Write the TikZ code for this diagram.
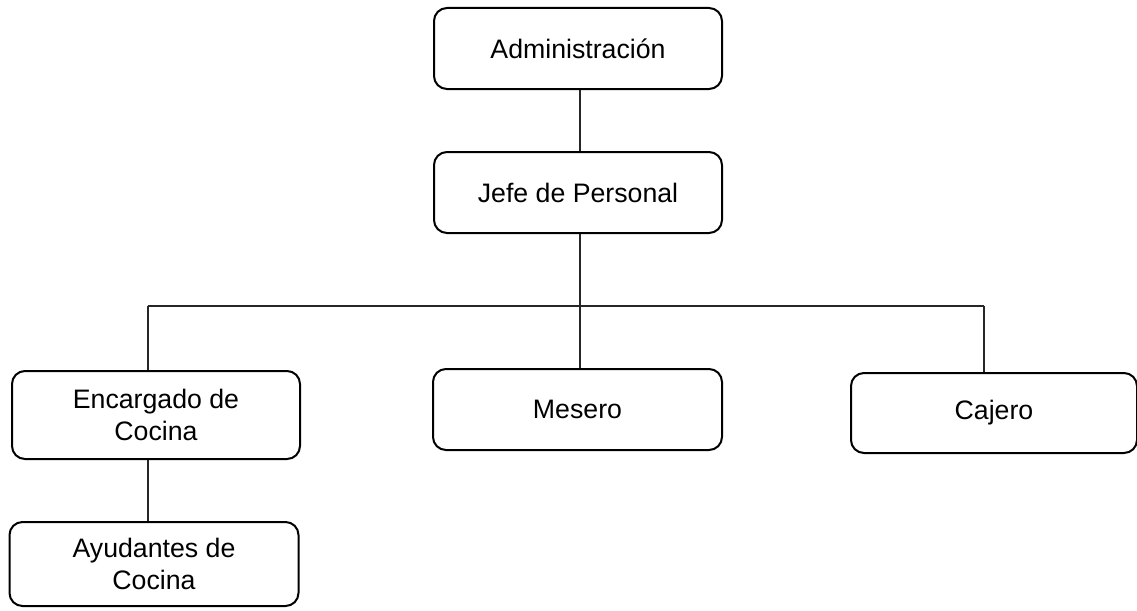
\documentclass[tikz,border=0pt]{standalone}
\usepackage{fontspec}
\setmainfont{Liberation Sans}
\begin{document}
\begin{tikzpicture}[x=1pt,y=-1pt,
  orgbox/.style={draw=black, line width=2pt, rounded corners=13pt, align=center,
    font=\fontsize{26.7}{32}\selectfont, inner sep=0pt},
  conn/.style={draw=black!85, line width=1.1pt}]
\useasboundingbox (0,0) rectangle (1137,610);
\node[orgbox, minimum width=288, minimum height=81] (admin) at (578,48.5) {Administración};
\node[orgbox, minimum width=288, minimum height=81] (jefe) at (578,192.5) {Jefe de Personal};
\node[orgbox, minimum width=288, minimum height=88] (enc) at (156,415) {Encargado de\\Cocina};
\node[orgbox, minimum width=289, minimum height=81] (mes) at (577.5,409.5) {Mesero};
\node[orgbox, minimum width=286, minimum height=80] (caj) at (994,413) {Cajero};
\node[orgbox, minimum width=289, minimum height=84] (ayu) at (154,564) {Ayudantes de\\Cocina};
\coordinate (hl) at (148,306);
\coordinate (hm) at (580,306);
\coordinate (hr) at (984,306);
\draw[conn] (hm |- admin.south) -- (hm |- jefe.north);
\draw[conn] (hm |- jefe.south) -- (hm |- mes.north);
\draw[conn] (hl) -- (hr);
\draw[conn] (hl) -- (hl |- enc.north);
\draw[conn] (hr) -- (hr |- caj.north);
\draw[conn] (enc.south -| hl) -- (ayu.north -| hl);
\end{tikzpicture}
\end{document}
